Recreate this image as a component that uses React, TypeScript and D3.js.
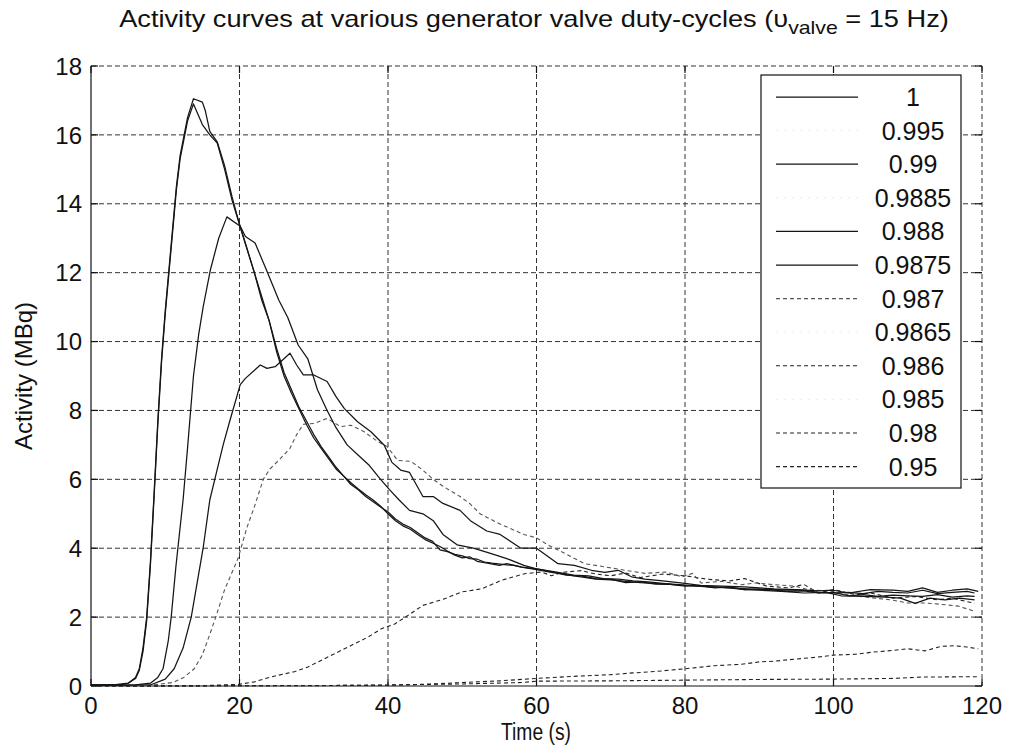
import React, { useLayoutEffect, useRef, useState } from "react";
import * as d3 from "d3";

// ---------- data ----------
const X_TICKS = [0, 20, 40, 60, 80, 100, 120];
const Y_TICKS = [0, 2, 4, 6, 8, 10, 12, 14, 16, 18];

const TITLE_MAIN = "Activity curves at various generator valve duty-cycles (\u03C5";
const TITLE_SUB = "valve";
const TITLE_END = " = 15 Hz)";
const X_LABEL = "Time (s)";
const Y_LABEL = "Activity (MBq)";

type Pt = [number, number];

const DUTY_1: Pt[] = [
  [0, 0.03], [3, 0.03], [5, 0.08], [6, 0.25], [6.5, 0.5], [7, 1.1], [7.5, 2.0], [8, 3.6], [8.5, 5.6], [9, 7.7],
  [9.5, 9.5], [10, 10.9], [10.5, 12.1], [11, 13.3], [11.5, 14.5], [12, 15.4], [13, 16.5], [13.8, 17.05], [15, 16.95],
  [15.4, 16.7], [16, 16.1], [17, 15.8], [18, 15.1], [19, 14.2], [20, 13.4], [21, 12.7], [22, 12.0], [23, 11.2],
  [24, 10.6], [25, 9.7], [26, 9.0], [27, 8.5], [28, 8.05], [29, 7.6], [30, 7.2], [31, 6.9], [32, 6.6], [33, 6.3],
  [34, 6.1], [35, 5.85], [36, 5.7], [37, 5.5], [38, 5.35], [39, 5.2], [40, 5.05], [41, 4.85], [42, 4.7], [43, 4.6],
  [44, 4.45], [45, 4.3], [46, 4.2], [47, 3.95], [48, 3.9], [49, 3.82], [50, 3.78], [51, 3.7], [52, 3.68], [53, 3.6],
  [54, 3.57], [56, 3.52], [57, 3.5], [58, 3.45], [60, 3.38], [62, 3.3], [63, 3.27], [65, 3.2], [66, 3.17], [68, 3.1],
  [70, 3.08], [72, 3.04], [74, 3.0], [76, 2.98], [78, 2.95], [80, 2.92], [82, 2.9], [84, 2.88], [86, 2.85], [88, 2.83],
  [90, 2.8], [92, 2.8], [94, 2.78], [96, 2.78], [98, 2.72], [100, 2.7], [102, 2.72], [104, 2.68], [106, 2.75],
  [108, 2.72], [110, 2.7], [112, 2.78], [114, 2.68], [116, 2.72], [118, 2.75], [119, 2.7],
];

const DUTY_0990: Pt[] = [
  [0, 0.03], [4, 0.03], [5, 0.08], [6, 0.22], [6.5, 0.45], [7, 1.0], [7.5, 1.9], [8, 3.5], [8.5, 5.5], [9, 7.6],
  [9.5, 9.4], [10, 10.8], [10.5, 12.0], [11, 13.2], [11.5, 14.4], [12, 15.3], [13, 16.4], [13.8, 16.9], [15, 16.3],
  [16, 16.0], [17, 15.76], [18, 15.0], [19, 14.1], [20, 13.4], [21, 12.7], [22, 12.0], [23, 11.3], [24, 10.6],
  [25, 9.8], [26, 9.1], [27, 8.6], [28, 8.1], [29, 7.7], [30, 7.3], [31, 6.95], [32, 6.65], [33, 6.35], [34, 6.1],
  [35, 5.9], [36, 5.72], [37, 5.55], [38, 5.4], [39, 5.22], [40, 5.0], [41, 4.8], [42, 4.65], [43, 4.55], [44, 4.4],
  [45, 4.25], [46, 4.15], [47, 4.05], [48, 3.92], [49, 3.8], [50, 3.72], [51, 3.75], [52, 3.62], [53, 3.58],
  [55, 3.5], [56, 3.55], [58, 3.45], [60, 3.4], [62, 3.32], [64, 3.22], [66, 3.2], [68, 3.12], [70, 3.1], [72, 3.0],
  [74, 3.02], [76, 2.96], [78, 2.95], [80, 2.9], [82, 2.92], [84, 2.85], [86, 2.88], [88, 2.8], [90, 2.82],
  [92, 2.78], [94, 2.75], [96, 2.76], [98, 2.7], [100, 2.72], [102, 2.62], [104, 2.65], [106, 2.6], [108, 2.64],
  [110, 2.62], [112, 2.6], [114, 2.65], [116, 2.58], [118, 2.62], [119, 2.6],
];

const DUTY_0988: Pt[] = [
  [0, 0.02], [6, 0.03], [8, 0.08], [9, 0.25], [9.7, 0.5], [10.4, 1.3], [10.8, 2.0], [11.45, 3.5], [12.4, 5.4],
  [13, 6.9], [13.8, 9.0], [14.5, 10.2], [15.1, 11.0], [16.1, 12.1], [17.2, 13.0], [18.3, 13.62], [20.1, 13.35],
  [20.8, 13.05], [22.1, 12.86], [23.7, 12.04], [25.3, 11.2], [26.5, 10.7], [27.9, 9.9], [29.2, 9.5], [30.5, 8.6],
  [31.8, 8.0], [33, 7.5], [34.5, 7.0], [36, 6.7], [37.5, 6.4], [39, 6.0], [40.2, 5.7], [41.5, 5.4], [42.9, 5.1],
  [44.7, 5.0], [46.1, 4.8], [47.4, 4.4], [49.3, 4.1], [51.5, 4.0], [53.8, 3.85], [56, 3.7], [58.3, 3.5], [60, 3.4],
  [62.9, 3.3], [65, 3.22], [67, 3.2], [69, 3.12], [71, 3.1], [73, 3.05], [75, 3.02], [77, 2.98], [80, 2.93],
  [83, 2.88], [86, 2.85], [88, 2.8], [90, 2.78], [93, 2.75], [96, 2.7], [99, 2.72], [101, 2.62], [104, 2.6],
  [107, 2.58], [109, 2.55], [111, 2.4], [113, 2.55], [115, 2.5], [117, 2.55], [119, 2.5],
];

const DUTY_09875: Pt[] = [
  [0, 0.02], [8, 0.03], [10, 0.2], [11.2, 0.5], [12.4, 1.1], [13.5, 2.0], [14.3, 3.0], [15.1, 4.0], [16.0, 5.4],
  [16.9, 6.2], [17.8, 7.0], [18.7, 7.7], [20.1, 8.75], [20.8, 8.93], [22.8, 9.32], [23.7, 9.22], [24.8, 9.27],
  [26.8, 9.66], [27.7, 9.32], [28.6, 9.03], [30, 9.03], [31.8, 8.84], [33, 8.4], [34.1, 8.06], [35.9, 7.67],
  [37.7, 7.38], [39.5, 6.99], [40.5, 6.5], [41.7, 6.27], [42.9, 6.2], [44.7, 5.5], [46.1, 5.5], [47.4, 5.3],
  [49.7, 5.1], [51.1, 4.8], [53.3, 4.5], [55.1, 4.4], [57.9, 4.0], [60, 4.0], [62.9, 3.55], [65.1, 3.5],
  [67.4, 3.36], [69.2, 3.3], [71, 3.36], [72.8, 3.17], [74.6, 3.1], [77, 3.05], [80, 2.98], [82, 2.92], [85, 2.9],
  [88, 2.88], [90, 2.85], [92, 2.82], [95, 2.8], [98, 2.76], [100, 2.78], [102, 2.7], [105, 2.8], [108, 2.78],
  [110, 2.75], [112, 2.85], [114, 2.72], [116, 2.78], [118, 2.82], [119.5, 2.75],
];

const DUTY_0987: Pt[] = [
  [0, 0.0], [8, 0.02], [11, 0.1], [12.5, 0.25], [13.9, 0.5], [15, 0.9], [16, 1.5], [16.8, 2.0], [18, 2.8], [19, 3.3],
  [19.8, 3.7], [21, 4.6], [22, 5.2], [23.2, 6.0], [24.1, 6.3], [25.5, 6.6], [26.8, 6.9], [27.7, 7.3], [28.6, 7.6],
  [30, 7.62], [31.8, 7.77], [33.6, 7.53], [35, 7.57], [36.8, 7.38], [38.6, 7.1], [39.9, 6.95], [41.3, 6.55],
  [43.1, 6.52], [44.5, 6.3], [46.1, 6.0], [47.4, 5.8], [49.7, 5.5], [51, 5.3], [52.4, 5.0], [55.1, 4.7], [58.3, 4.4],
  [60, 4.3], [61.5, 4.1], [63.8, 3.85], [66.5, 3.55], [69.2, 3.46], [71.9, 3.36], [74.6, 3.27], [77.4, 3.31],
  [79.6, 3.17], [81, 3.27], [82.2, 2.99], [84.9, 3.04], [87.6, 2.94], [89.4, 2.99], [92.1, 2.94], [94.8, 2.9],
  [96.6, 2.8], [99.7, 2.75], [101.9, 2.65], [105.1, 2.56], [107.8, 2.5], [110, 2.41], [112.3, 2.41],
  [114.5, 2.37], [116.8, 2.32], [119, 2.17],
];

const DUTY_0986: Pt[] = [
  [0, 0.0], [15, 0.01], [20, 0.05], [22, 0.12], [24, 0.25], [26, 0.35], [27.5, 0.42], [29.2, 0.55], [31.9, 0.84],
  [34.6, 1.13], [37.3, 1.42], [39.1, 1.66], [40.9, 1.8], [42.7, 2.05], [44.7, 2.34], [47.6, 2.53], [49.9, 2.73],
  [52.6, 2.82], [55.3, 3.07], [58.4, 3.26], [60.7, 3.31], [62, 3.2], [63.5, 3.3], [66, 3.35], [68, 3.25],
  [70, 3.2], [72, 3.28], [74, 3.15], [77, 3.25], [80, 3.2], [83, 3.1], [86, 3.05], [88, 3.12], [91, 2.9],
  [94, 2.85], [96, 2.95], [98, 2.7], [100, 2.8], [103, 2.65], [105, 2.7], [108, 2.55], [111, 2.6], [114, 2.5],
  [116, 2.55], [119, 2.4],
];

const DUTY_098: Pt[] = [
  [0, 0.0], [40, 0.02], [45, 0.05], [50, 0.1], [55, 0.15], [60, 0.22], [65, 0.28], [70, 0.33], [73, 0.38],
  [76, 0.42], [80, 0.5], [84, 0.59], [87.6, 0.63], [90, 0.7], [92, 0.72], [94.8, 0.78], [97.9, 0.84],
  [100.2, 0.9], [102.9, 0.92], [105.1, 0.98], [107.8, 1.03], [110, 1.08], [112.3, 1.02], [114.5, 1.15],
  [116.3, 1.17], [118, 1.13], [119.5, 1.08],
];

const DUTY_095: Pt[] = [
  [0, 0.0], [30, 0.01], [40, 0.03], [50, 0.06], [58, 0.1], [60, 0.14], [70, 0.15], [80, 0.17], [90, 0.19],
  [100, 0.2], [108, 0.22], [112, 0.26], [119.5, 0.27],
];

const LEGEND_LABELS = ["1", "0.995", "0.99", "0.9885", "0.988", "0.9875", "0.987", "0.9865", "0.986", "0.985", "0.98", "0.95"];
const LEGEND_DATA: (Pt[] | null)[] = [
  DUTY_1, null, DUTY_0990, null, DUTY_0988, DUTY_09875, DUTY_0987, null, DUTY_0986, null, DUTY_098, DUTY_095,
];
const LEGEND_KIND = ["solid", "faint", "solid", "faint", "solid", "solid", "dashL", "faint", "dash", "faint", "dash", "dash"];

// ---------- layout ----------
const W = 1010;
const H = 745;
const L = 91;
const R = 982;
const T = 66;
const B = 686;
const FONT = "'Liberation Sans', Arial, Helvetica, sans-serif";

function styleOf(kind: string) {
  if (kind === "solid") return { stroke: "#151515", dash: undefined as string | undefined, width: 1.25 };
  if (kind === "dashL") return { stroke: "#555", dash: "4,3", width: 1.1 };
  if (kind === "dash") return { stroke: "#222", dash: "4,3", width: 1.1 };
  return { stroke: "#eeeeee", dash: "2,6", width: 1 };
}

function FitText(props: {
  x: number; y: number; width: number; rotate?: number; anchor?: string; fontSize: number; children: React.ReactNode;
}) {
  const ref = useRef<SVGTextElement>(null);
  const [k, setK] = useState(1);
  useLayoutEffect(() => {
    if (!ref.current) return;
    const w = ref.current.getBBox().width;
    if (w > 0) setK(props.width / w);
  }, [props.width]);
  return (
    <text
      ref={ref}
      transform={`translate(${props.x},${props.y}) rotate(${props.rotate ?? 0}) scale(${k},1)`}
      textAnchor={props.anchor ?? "middle"}
      fontSize={props.fontSize}
      fontFamily={FONT}
      fill="#111"
    >
      {props.children}
    </text>
  );
}

export default function App() {
  const x = d3.scaleLinear().domain([0, 120]).range([L, R]);
  const y = d3.scaleLinear().domain([0, 18]).range([B, T]);
  const line = d3
    .line<Pt>()
    .x((d) => x(d[0]))
    .y((d) => y(d[1]));

  const legX = 761;
  const legY = 75;
  const legW = 200;
  const legH = 413;
  const rowStep = 33.6;
  const row0 = 97;

  const drawOrder = [11, 10, 8, 6, 5, 4, 2, 0];

  return (
    <svg
      width={W}
      height={H}
      style={{ position: "absolute", left: 0, top: 0, background: "#fff" }}
      xmlns="http://www.w3.org/2000/svg"
    >
      <defs>
        <clipPath id="plotclip">
          <rect x={L} y={T - 1} width={R - L + 1} height={B - T + 2} />
        </clipPath>
      </defs>
      <rect x={0} y={0} width={W} height={H} fill="#fff" />

      {/* grid */}
      <g stroke="#333" strokeWidth={1} strokeDasharray="5,3">
        {Y_TICKS.filter((v) => v > 0).map((v) => (
          <line key={"gy" + v} x1={L} x2={R} y1={y(v)} y2={y(v)} />
        ))}
        {X_TICKS.filter((v) => v > 0).map((v) => (
          <line key={"gx" + v} x1={x(v)} x2={x(v)} y1={T} y2={B} />
        ))}
      </g>

      {/* axes */}
      <g stroke="#111" strokeWidth={1.2}>
        <line x1={L} x2={L} y1={T} y2={B} />
        <line x1={L} x2={R} y1={B} y2={B} />
        {Y_TICKS.map((v) => (
          <g key={"ty" + v}>
            <line x1={L} x2={L + 7} y1={y(v)} y2={y(v)} />
            <line x1={R - 7} x2={R} y1={y(v)} y2={y(v)} />
          </g>
        ))}
        {X_TICKS.map((v) => (
          <g key={"tx" + v}>
            <line x1={x(v)} x2={x(v)} y1={B} y2={B - 7} />
            <line x1={x(v)} x2={x(v)} y1={T} y2={T + 7} />
          </g>
        ))}
      </g>

      {/* curves */}
      <g clipPath="url(#plotclip)" fill="none">
        {drawOrder.map((i) => {
          const data = LEGEND_DATA[i];
          if (!data) return null;
          const s = styleOf(LEGEND_KIND[i]);
          return (
            <path
              key={"c" + i}
              d={line(data) ?? ""}
              stroke={s.stroke}
              strokeWidth={s.width}
              strokeDasharray={s.dash}
              strokeLinejoin="round"
            />
          );
        })}
      </g>

      {/* tick labels */}
      <g fontFamily={FONT} fontSize={24} fill="#111">
        {Y_TICKS.map((v) => (
          <text key={"ly" + v} x={L - 9} y={y(v)} dy="0.36em" textAnchor="end">
            {v}
          </text>
        ))}
        {X_TICKS.map((v) => (
          <text key={"lx" + v} x={x(v)} y={B + 28} textAnchor="middle">
            {v}
          </text>
        ))}
      </g>

      {/* labels */}
      <FitText x={534} y={27} width={830} fontSize={23}>
        {TITLE_MAIN}
        <tspan dy={7} fontSize={18}>{TITLE_SUB}</tspan>
        <tspan dy={-7}>{TITLE_END}</tspan>
      </FitText>
      <FitText x={536} y={740} width={70} fontSize={23}>
        {X_LABEL}
      </FitText>
      <FitText x={32} y={376} width={148} rotate={-90} fontSize={23}>
        {Y_LABEL}
      </FitText>

      {/* legend */}
      <rect x={legX} y={legY} width={legW} height={legH} fill="#fff" stroke="#111" strokeWidth={1.2} />
      {LEGEND_LABELS.map((lab, i) => {
        const s = styleOf(LEGEND_KIND[i]);
        const cy = row0 + i * rowStep;
        return (
          <g key={"lg" + i}>
            <line x1={776} x2={858} y1={cy} y2={cy} stroke={s.stroke} strokeWidth={s.width} strokeDasharray={s.dash} />
            <text x={913} y={cy} dy="0.36em" textAnchor="middle" fontFamily={FONT} fontSize={25} fill="#111">
              {lab}
            </text>
          </g>
        );
      })}
    </svg>
  );
}
